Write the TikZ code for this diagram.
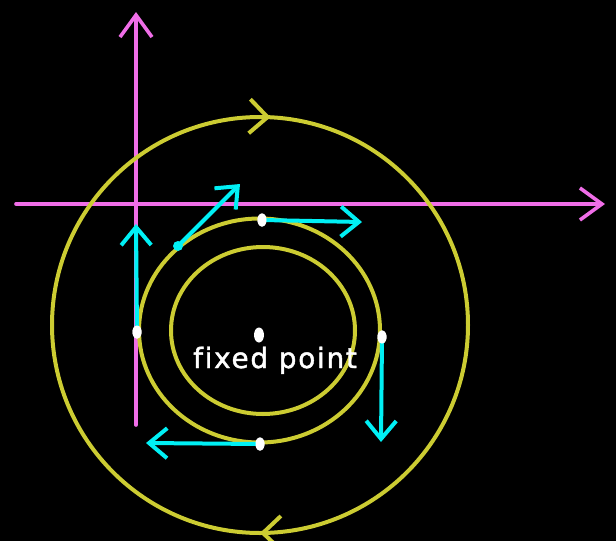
\documentclass[tikz,border=0pt]{standalone}
\usepackage{fontspec}
\newfontfamily\labelfont[LetterSpace=6,FakeBold=1.5,Ligatures=NoCommon]{DejaVu Sans}
\usetikzlibrary{arrows.meta,decorations.markings,shapes.geometric}
\definecolor{axispink}{RGB}{240,110,232}
\definecolor{orbit}{RGB}{204,204,50}
\definecolor{flow}{RGB}{0,240,245}
\tikzset{
  axis/.style={draw=axispink,line width=3.6pt,line cap=round,-{Straight Barb[length=22pt,width=32pt,line width=3.6pt]}},
  orbitline/.style={draw=orbit,line width=4pt},
  flowarrow/.style={draw=flow,line width=4pt,line cap=round,-{Straight Barb[length=18pt,width=30pt,line width=4pt]}},
  whitedot/.style={ellipse,fill=white,inner sep=0pt,minimum width=9pt,minimum height=13pt},
  cyandot/.style={circle,fill=flow,inner sep=0pt,minimum size=10pt},
  orbitmark/.style={postaction={decorate,decoration={markings,mark=at position #1 with {\arrow[draw=orbit,line width=4pt]{Straight Barb[length=18pt,width=34pt]}}}}}
}
\begin{document}
\begin{tikzpicture}[x=1pt,y=-1pt]
\fill[black] (0,0) rectangle (616,541);
\useasboundingbox (0,0) rectangle (616,541);
% axes
\coordinate (yb) at (136,425);
\coordinate (yt) at (136,12);
\coordinate (xl) at (16,204);
\coordinate (xr) at (605,204);
\draw[axis] (yb) -- (yt);
\draw[axis] (xl) -- (xr);
% orbits
\draw[orbitline,orbitmark=0.758,orbitmark=0.25] (260,325) circle[radius=208];
\draw[orbitline] (259.5,330.5) ellipse[x radius=120.5,y radius=112];
\draw[orbitline] (263,330.5) ellipse[x radius=92,y radius=83.5];
% dots
\node[whitedot] (top) at (262,220) {};
\node[whitedot] (left) at (137,332) {};
\node[whitedot,minimum width=10pt,minimum height=15pt] (fp) at (259,335) {};
\node[whitedot] (right) at (382,337) {};
\node[whitedot] (bottom) at (260,444) {};
\node[cyandot] (diag) at (178,246) {};
% arrow ends
\coordinate (topend) at (362,222);
\coordinate (diagend) at (240,184);
\coordinate (leftend) at (136,224);
\coordinate (rightend) at (381,442);
\coordinate (bottomend) at (146,443);
\draw[flowarrow] (top.center) -- (topend);
\draw[flowarrow] (diag.center) -- (diagend);
\draw[flowarrow] (left.center) -- (leftend);
\draw[flowarrow] (right.center) -- (rightend);
\draw[flowarrow] (bottom.center) -- (bottomend);
\node[whitedot] at (top) {};
\node[whitedot] at (left) {};
\node[whitedot] at (right) {};
\node[whitedot] at (bottom) {};
% label
\node[anchor=base,text=white,font=\labelfont\fontsize{28}{30}\selectfont,inner sep=0pt] (lbl) at (275,368) {fixed point};
\end{tikzpicture}
\end{document}
